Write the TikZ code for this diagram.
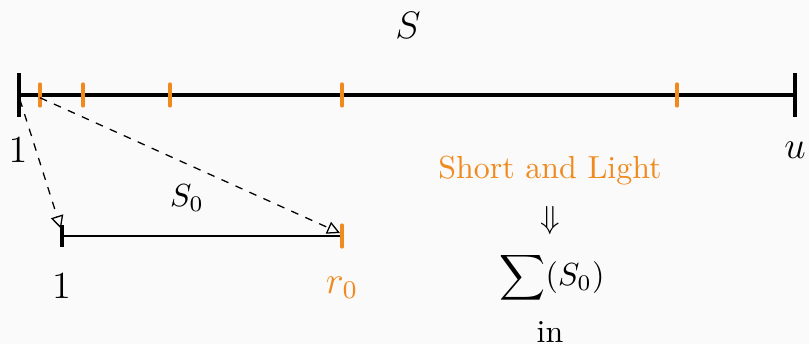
\documentclass[tikz,border=0pt]{standalone}
\usepackage{amsmath,amssymb}
\usepackage{xcolor}
\usetikzlibrary{arrows.meta,positioning}
\definecolor{markorange}{RGB}{240,138,30}
\definecolor{bggray}{RGB}{250,250,250}
\tikzset{
  endtick/.style={line width=1.3pt, black},
  marktick/.style={line width=1pt, markorange, line cap=round},
  mapto/.style={dash pattern=on 2.4pt off 2.4pt, line width=0.4pt,
    -{Triangle[open, length=4pt, width=4pt]}},
}

\begin{document}
\begin{tikzpicture}
\fill[bggray] (-0.209,-2.742) rectangle (8.700,1.046);
\useasboundingbox (-0.209,-2.742) rectangle (8.700,1.046);
% upper interval S
\coordinate (left) at (0,0);
\coordinate (right) at (8.546,0);
\draw[line width=1pt] (left) -- (right);
\draw[endtick] (0,0.242) -- (0,-0.242);
\draw[endtick] (8.546,0.242) -- (8.546,-0.242);
\foreach \x in {0.231,0.705,1.663,3.557,7.247}
  \draw[marktick] (\x,0.121) -- (\x,-0.121);
\coordinate (first) at (0.231,-0.03);
\node[anchor=base] (one) at (-0.011,-0.738) {\large $1$};
\node[anchor=base] (uend) at (8.546,-0.694) {\large $u$};
\node[anchor=base] (S) at (4.284,0.617) {\large $S$};
% lower interval
\coordinate (lleft) at (0.474,-1.553);
\coordinate (lright) at (3.557,-1.553);
\draw[line width=0.9pt] (lleft) -- (lright);
\draw[endtick] (0.474,-1.432) -- (0.474,-1.674);
\draw[marktick] (3.557,-1.432) -- (3.557,-1.674);
\node[anchor=base] (lone) at (0.468,-2.236) {\large $1$};
\node[anchor=base, markorange] (r0) at (3.557,-2.181) {\large $r_0$};
% maps
\coordinate (tipl) at (0.462,-1.47);
\coordinate (tipr) at (3.535,-1.52);
\draw[mapto] (0.01,-0.05) -- (tipl);
\draw[mapto] (first) -- (tipr);
\node[anchor=base] (S0) at (1.85,-1.233) {$S_0$};
% conclusion
\node[anchor=base, markorange] (short) at (5.848,-0.925) {Short and Light};
\node (imp) at (5.848,-1.377) {$\Downarrow$};
\node (sum) at (5.87,-2.015) {$\displaystyle\sum(S_0)$};
\node[anchor=base] (in) at (5.848,-2.731) {in};
\end{tikzpicture}
\end{document}
